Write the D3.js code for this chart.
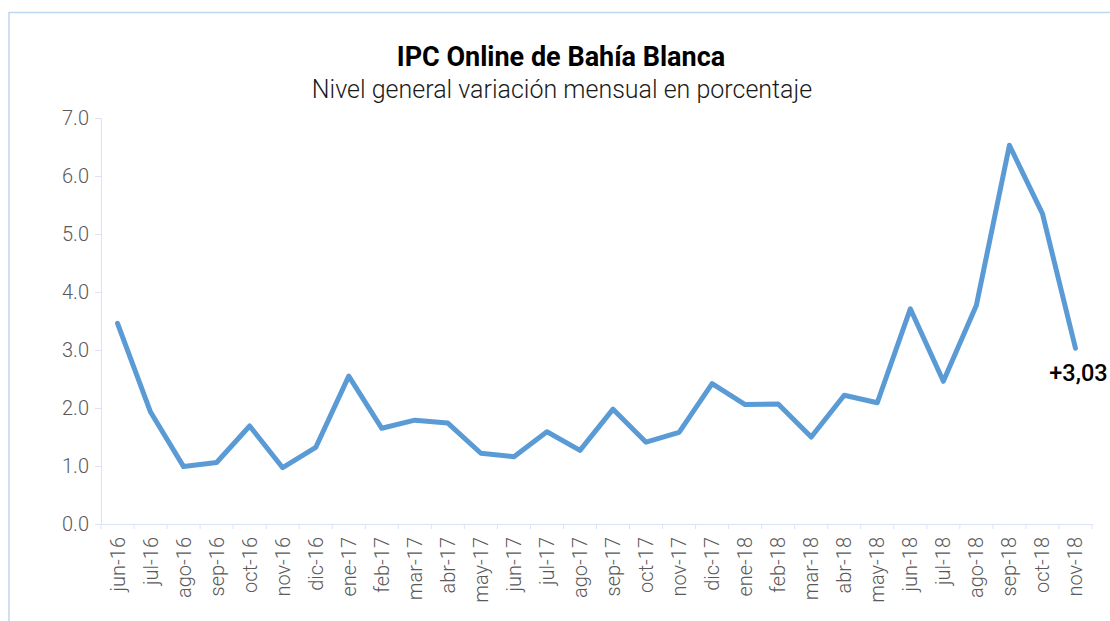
<!DOCTYPE html>
<html>
<head>
<meta charset="utf-8">
<script src="https://cdn.jsdelivr.net/npm/d3@7"></script>
<style>
  body { margin: 0; background: #fff; font-family: Roboto, "Noto Sans", sans-serif; }
  .axis path, .axis line { stroke: #dae3f3; }
  .axis text { fill: #595959; font-weight: 300; font-size: 20px; font-family: Roboto, sans-serif; }
</style>
</head>
<body>
<div id="chart"></div>
<script>
var months = ["jun-16","jul-16","ago-16","sep-16","oct-16","nov-16","dic-16","ene-17","feb-17","mar-17",
              "abr-17","may-17","jun-17","jul-17","ago-17","sep-17","oct-17","nov-17","dic-17","ene-18",
              "feb-18","mar-18","abr-18","may-18","jun-18","jul-18","ago-18","sep-18","oct-18","nov-18"];
var ipc = [3.46, 1.93, 0.99, 1.06, 1.69, 0.97, 1.32, 2.55, 1.65, 1.79,
           1.74, 1.22, 1.16, 1.59, 1.27, 1.98, 1.41, 1.58, 2.42, 2.06,
           2.07, 1.50, 2.22, 2.09, 3.71, 2.46, 3.77, 6.53, 5.35, 3.03];
var yTicks = [0, 1, 2, 3, 4, 5, 6, 7];
var lastLabel = "+3,03";

var W = 1110, H = 621,
    margin = {top: 118, right: 18, bottom: 97, left: 101},
    width = W - margin.left - margin.right,
    height = H - margin.top - margin.bottom;

var svg = d3.select("#chart").append("svg")
    .attr("width", W)
    .attr("height", H);

// outer frame
svg.append("rect")
    .attr("x", 9).attr("y", 12.5)
    .attr("width", W + 20).attr("height", H + 20)
    .attr("fill", "none")
    .attr("stroke", "#bdd7ee")
    .attr("stroke-width", 1.5);

svg.append("text")
    .attr("x", 561).attr("y", 66)
    .attr("text-anchor", "middle")
    .style("font-size", "27px")
    .style("font-weight", "bold")
    .attr("fill", "#000")
    .text("IPC Online de Bahía Blanca");

svg.append("text")
    .attr("x", 562).attr("y", 98)
    .attr("text-anchor", "middle")
    .style("font-size", "25px")
    .style("font-weight", 300)
    .attr("fill", "#1a1a1a")
    .text("Nivel general variación mensual en porcentaje");

var g = svg.append("g")
    .attr("transform", "translate(" + margin.left + "," + margin.top + ")");

var x = d3.scaleBand()
    .domain(months)
    .range([0, width]);

var y = d3.scaleLinear()
    .domain([0, 7])
    .range([height, 0]);

g.append("g")
    .attr("class", "y axis")
    .call(d3.axisLeft(y).tickValues(yTicks).tickFormat(d3.format(".1f")).tickSizeOuter(0).tickSize(6).tickPadding(6));

var xAxis = g.append("g")
    .attr("class", "x axis")
    .attr("transform", "translate(0," + height + ")")
    .call(d3.axisBottom(x).tickSize(0).tickSizeOuter(0));

xAxis.selectAll("text")
    .attr("text-anchor", "end")
    .attr("transform", "rotate(-90)")
    .attr("x", -13)
    .attr("y", 0)
    .attr("dy", "0.35em");

// tick marks at the boundaries between months
xAxis.selectAll("line.bound")
    .data(months.concat(["end"]))
    .enter().append("line")
    .attr("class", "bound")
    .attr("x1", function (d, i) { return i * x.step(); })
    .attr("x2", function (d, i) { return i * x.step(); })
    .attr("y1", 0)
    .attr("y2", 5);

var line = d3.line()
    .x(function (d, i) { return x(months[i]) + x.bandwidth() / 2; })
    .y(function (d) { return y(d); });

g.append("path")
    .datum(ipc)
    .attr("d", line)
    .attr("fill", "none")
    .attr("stroke", "#5b9bd5")
    .attr("stroke-width", 5)
    .attr("stroke-linejoin", "round")
    .attr("stroke-linecap", "round");

var li = months.length - 1;
g.append("text")
    .attr("x", x(months[li]) + x.bandwidth() / 2 + 3)
    .attr("y", y(ipc[li]) + 33)
    .attr("text-anchor", "middle")
    .style("font-size", "23.5px")
    .style("font-weight", 500)
    .attr("fill", "#000")
    .text(lastLabel);
</script>
</body>
</html>
